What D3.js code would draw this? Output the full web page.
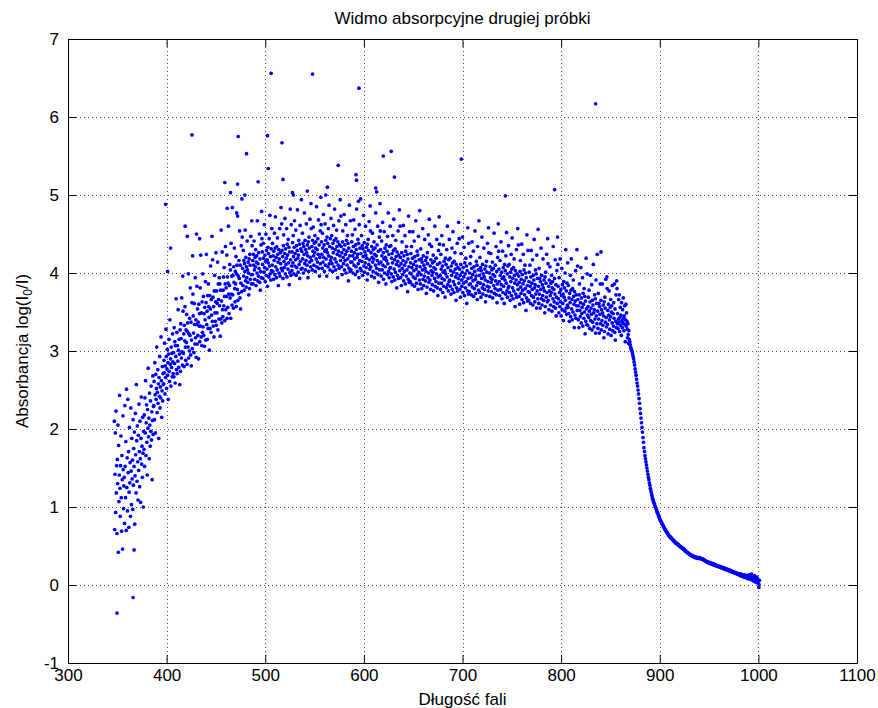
<!DOCTYPE html>
<html>
<head>
<meta charset="utf-8">
<script src="https://cdn.jsdelivr.net/npm/d3@7"></script>
<style>
  body { margin: 0; background: #fff; }
  svg text { font-family: "Liberation Sans", Arial, Helvetica, sans-serif; font-size: 17px; fill: #000; }
</style>
</head>
<body>
<div id="chart"></div>
<script>
(function () {

  // spectrometer samples, 3 per nm in 10 nm rows
  const sampleStep = 1 / 3;

  const uvStart = 347;
  const uvAbsorbance = [
    2.10, 0.71, 1.42, 1.95, 0.93, 2.23, 1.18, 1.53, 0.66, 1.61, 1.30, 2.05, 0.42, 1.79, 1.07, 1.41, 2.43, 1.24, 0.88, 1.53, 1.91, 1.12, 0.69, 1.66, 1.35, 0.46, 2.17, 1.48, 0.98, 1.27,
    1.38, 0.79, 2.30, 1.52, 1.12, 1.84, 0.70, 2.51, 1.25, 1.63, 0.95, 2.38, 1.44, 1.71, 0.74, 1.19, 2.02, 1.31, 1.57, 0.88, 2.27, 1.46, 1.03, 1.88, 1.36, 1.60, 0.97, 2.12, 1.28, 1.75,
    1.52, 1.96, 0.78, 1.40, 2.20, 1.67, 1.18, 2.57, 1.85, 1.33, 2.04, 1.58, 1.09, 1.92, 1.47, 2.32, 1.71, 1.26, 2.10, 1.62, 1.06, 1.88, 2.41, 1.55, 1.78, 1.38, 2.15, 1.69, 1.00, 1.97,
    1.74, 2.18, 1.52, 2.40, 1.95, 2.62, 1.66, 2.08, 2.31, 1.83, 1.41, 2.25, 2.01, 2.78, 1.90, 2.14, 1.62, 2.46, 2.05, 1.78, 2.36, 1.97, 2.55, 1.86, 2.22, 1.35, 2.11, 2.68, 1.93, 2.29,
    2.30, 2.61, 2.12, 2.85, 2.44, 1.95, 2.70, 2.38, 2.52, 3.05, 2.21, 2.47, 2.76, 2.33, 2.58, 1.88, 2.66, 2.42, 2.93, 2.27, 2.54, 2.40, 3.18, 2.62, 2.15, 2.49, 2.80, 2.36, 2.71, 2.57,
    2.58, 2.88, 2.72, 3.10, 2.45, 2.81, 2.66, 3.28, 2.93, 2.52, 2.77, 3.02, 2.69, 2.85, 2.38, 2.96, 3.15, 2.74, 2.61, 3.40, 2.83, 2.90, 2.55, 3.05, 2.79, 2.97, 2.67, 3.22, 2.86, 2.71
  ];

  const blueStart = 407;
  const blueAbsorbance = [
    2.98, 2.67, 3.30, 2.84, 3.12, 2.59, 3.07, 2.93, 3.67, 2.76, 3.24, 2.71, 3.07, 2.87, 3.53, 3.01, 2.79, 3.15, 2.96, 2.57, 3.27, 2.74, 3.35, 3.16, 2.91, 3.68, 2.99, 2.82, 3.96, 3.51,
    2.97, 3.22, 2.80, 3.33, 3.13, 3.57, 3.05, 2.88, 3.27, 3.11, 3.47, 2.83, 3.25, 3.36, 3.05, 3.99, 2.91, 3.22, 3.00, 3.42, 3.20, 3.81, 2.95, 3.37, 2.81, 3.14, 3.62, 3.03, 4.22, 3.73,
    3.45, 3.23, 2.98, 3.61, 3.34, 3.09, 3.94, 3.17, 3.40, 2.92, 3.34, 3.83, 3.09, 3.54, 3.20, 3.37, 2.90, 3.60, 3.32, 3.48, 3.12, 3.81, 3.32, 4.23, 3.18, 3.49, 3.07, 3.63, 3.24, 3.99,
    3.31, 3.70, 3.20, 3.48, 3.06, 3.56, 3.40, 3.89, 3.14, 3.62, 4.24, 3.34, 3.51, 3.15, 3.71, 3.29, 3.86, 3.57, 3.43, 3.01, 3.71, 3.29, 3.54, 4.09, 3.24, 3.66, 3.46, 4.47, 3.38, 4.17,
    3.69, 3.32, 3.57, 3.18, 3.77, 3.97, 3.49, 3.38, 3.63, 4.26, 3.33, 3.77, 3.49, 3.61, 4.14, 3.27, 3.86, 3.66, 3.41, 3.94, 3.58, 3.86, 3.19, 3.78, 3.41, 4.55, 3.64, 3.36, 4.27, 3.53,
    3.44, 3.78, 3.95, 3.58, 4.07, 3.70, 3.39, 3.86, 4.34, 3.53, 3.81, 3.70, 4.23, 3.42, 3.95, 3.56, 3.87, 4.60, 3.73, 3.48, 3.84, 4.11, 3.68, 4.04, 3.42, 4.38, 3.73, 3.96, 3.59, 4.84,
    3.72, 3.97, 3.55, 4.08, 3.88, 4.32, 3.80, 3.63, 4.02, 3.86, 4.21, 3.57, 3.99, 4.10, 3.79, 4.73, 3.65, 3.96, 3.74, 4.16, 3.93, 4.54, 3.68, 4.10, 3.54, 3.87, 4.35, 3.76, 4.95, 4.46,
    4.06, 3.84, 4.29, 3.96, 4.16, 3.78, 4.12, 4.02, 4.55, 3.90, 4.20, 3.82, 4.08, 3.94, 4.41, 4.04, 3.88, 4.14, 4.00, 3.72, 4.18, 3.80, 4.24, 4.10, 3.92, 4.47, 3.98, 3.86, 4.67, 4.35,
    3.98, 4.16, 3.86, 4.24, 4.10, 4.41, 4.04, 3.92, 4.20, 4.08, 4.30, 3.84, 4.14, 4.22, 4.00, 4.67, 3.90, 4.12, 3.96, 4.26, 4.06, 4.50, 3.88, 4.18, 3.78, 4.02, 4.36, 3.94, 4.79, 4.44,
    4.27, 4.11, 3.93, 4.38, 4.19, 4.01, 4.62, 4.07, 4.23, 3.89, 4.15, 4.50, 3.97, 4.29, 4.05, 4.17, 3.83, 4.33, 4.13, 4.25, 3.95, 4.44, 4.09, 4.74, 3.99, 4.21, 3.91, 4.31, 4.03, 4.57
  ];

  const greenStart = 507;
  const greenAbsorbance = [
    4.10, 4.38, 4.02, 4.22, 3.92, 4.28, 4.16, 4.51, 3.98, 4.32, 4.72, 4.08, 4.20, 3.94, 4.34, 4.04, 4.45, 4.24, 4.14, 3.84, 4.30, 4.00, 4.18, 4.57, 3.96, 4.26, 4.12, 4.84, 4.06, 4.63,
    4.29, 4.03, 4.21, 3.93, 4.35, 4.49, 4.15, 4.07, 4.25, 4.70, 3.99, 4.31, 4.11, 4.19, 4.57, 3.95, 4.37, 4.23, 4.05, 4.43, 4.13, 4.33, 3.85, 4.27, 4.01, 4.82, 4.17, 3.97, 4.62, 4.09,
    4.03, 4.27, 4.39, 4.13, 4.48, 4.21, 3.99, 4.33, 4.67, 4.09, 4.25, 4.17, 4.55, 3.97, 4.35, 4.07, 4.29, 4.81, 4.19, 4.01, 4.23, 4.42, 4.11, 4.37, 3.93, 4.61, 4.15, 4.31, 4.05, 4.94,
    4.28, 4.06, 4.51, 4.18, 4.38, 4.00, 4.34, 4.24, 4.77, 4.12, 4.42, 4.04, 4.30, 4.16, 4.63, 4.26, 4.10, 4.36, 4.22, 3.94, 4.40, 4.02, 4.46, 4.32, 4.14, 4.69, 4.20, 4.08, 4.89, 4.57,
    4.16, 4.34, 4.04, 4.42, 4.28, 4.59, 4.22, 4.10, 4.38, 4.26, 4.48, 4.02, 4.32, 4.40, 4.18, 4.85, 4.08, 4.30, 4.14, 4.44, 4.24, 4.68, 4.06, 4.36, 3.96, 4.20, 4.54, 4.12, 4.97, 4.62,
    4.40, 4.24, 4.06, 4.51, 4.32, 4.14, 4.75, 4.20, 4.36, 4.02, 4.28, 4.63, 4.10, 4.42, 4.18, 4.30, 3.96, 4.46, 4.26, 4.38, 4.08, 4.57, 4.22, 4.87, 4.12, 4.34, 4.04, 4.44, 4.16, 4.70,
    4.20, 4.48, 4.12, 4.32, 4.02, 4.38, 4.26, 4.61, 4.08, 4.42, 4.82, 4.18, 4.30, 4.04, 4.44, 4.14, 4.55, 4.34, 4.24, 3.94, 4.40, 4.10, 4.28, 4.67, 4.06, 4.36, 4.22, 4.94, 4.16, 4.73,
    4.34, 4.08, 4.26, 3.98, 4.40, 4.54, 4.20, 4.12, 4.30, 4.75, 4.04, 4.36, 4.16, 4.24, 4.62, 4.00, 4.42, 4.28, 4.10, 4.48, 4.18, 4.38, 3.90, 4.32, 4.06, 4.87, 4.22, 4.02, 4.67, 4.14,
    4.04, 4.28, 4.40, 4.14, 4.49, 4.22, 4.00, 4.34, 4.68, 4.10, 4.26, 4.18, 4.56, 3.98, 4.36, 4.08, 4.30, 4.82, 4.20, 4.02, 4.24, 4.43, 4.12, 4.38, 3.94, 4.62, 4.16, 4.32, 4.06, 4.95,
    4.25, 4.03, 4.48, 4.15, 4.35, 3.97, 4.31, 4.21, 4.74, 4.09, 4.39, 4.01, 4.27, 4.13, 4.60, 4.23, 4.07, 4.33, 4.19, 3.91, 4.37, 3.99, 4.43, 4.29, 4.11, 4.66, 4.17, 4.05, 4.86, 4.54
  ];

  const orangeStart = 607;
  const orangeAbsorbance = [
    4.08, 4.26, 3.96, 4.34, 4.20, 4.51, 4.14, 4.02, 4.30, 4.18, 4.40, 3.94, 4.24, 4.32, 4.10, 4.77, 4.00, 4.22, 4.06, 4.36, 4.16, 4.60, 3.98, 4.28, 3.88, 4.12, 4.46, 4.04, 4.89, 4.54,
    4.30, 4.14, 3.96, 4.41, 4.22, 4.04, 4.65, 4.10, 4.26, 3.92, 4.18, 4.53, 4.00, 4.32, 4.08, 4.20, 3.86, 4.36, 4.16, 4.28, 3.98, 4.47, 4.12, 4.77, 4.02, 4.24, 3.94, 4.34, 4.06, 4.60,
    4.07, 4.35, 3.99, 4.19, 3.89, 4.25, 4.13, 4.48, 3.95, 4.29, 4.69, 4.05, 4.17, 3.91, 4.31, 4.01, 4.42, 4.21, 4.11, 3.81, 4.27, 3.97, 4.15, 4.54, 3.93, 4.23, 4.09, 4.81, 4.03, 4.60,
    4.20, 3.94, 4.12, 3.84, 4.26, 4.40, 4.06, 3.98, 4.16, 4.61, 3.90, 4.22, 4.02, 4.10, 4.48, 3.86, 4.28, 4.14, 3.96, 4.34, 4.04, 4.24, 3.76, 4.18, 3.92, 4.73, 4.08, 3.88, 4.53, 4.00,
    3.89, 4.13, 4.25, 3.99, 4.34, 4.07, 3.85, 4.19, 4.53, 3.95, 4.11, 4.03, 4.41, 3.83, 4.21, 3.93, 4.15, 4.67, 4.05, 3.87, 4.09, 4.28, 3.97, 4.23, 3.79, 4.47, 4.01, 4.17, 3.91, 4.80,
    4.08, 3.86, 4.31, 3.98, 4.18, 3.80, 4.14, 4.04, 4.57, 3.92, 4.22, 3.84, 4.10, 3.96, 4.43, 4.06, 3.90, 4.16, 4.02, 3.74, 4.20, 3.82, 4.26, 4.12, 3.94, 4.49, 4.00, 3.88, 4.69, 4.37,
    3.91, 4.09, 3.79, 4.17, 4.03, 4.34, 3.97, 3.85, 4.13, 4.01, 4.23, 3.77, 4.07, 4.15, 3.93, 4.60, 3.83, 4.05, 3.89, 4.19, 3.99, 4.43, 3.81, 4.11, 3.71, 3.95, 4.29, 3.87, 4.72, 4.37,
    4.13, 3.97, 3.79, 4.24, 4.05, 3.87, 4.48, 3.93, 4.09, 3.75, 4.01, 4.36, 3.83, 4.15, 3.91, 4.03, 3.69, 4.19, 3.99, 4.11, 3.81, 4.30, 3.95, 4.60, 3.85, 4.07, 3.77, 4.17, 3.89, 4.43,
    3.91, 4.19, 3.83, 4.03, 3.73, 4.09, 3.97, 4.32, 3.79, 4.13, 4.53, 3.89, 4.01, 3.75, 4.15, 3.85, 4.26, 4.05, 3.95, 3.65, 4.11, 3.81, 3.99, 4.38, 3.77, 4.07, 3.93, 4.65, 3.87, 4.44,
    4.05, 3.79, 3.97, 3.69, 4.11, 4.25, 3.91, 3.83, 4.01, 4.46, 3.75, 4.07, 3.87, 3.95, 4.33, 3.71, 4.13, 3.99, 3.81, 4.19, 3.89, 4.09, 3.61, 4.03, 3.77, 4.58, 3.93, 3.73, 4.38, 3.85
  ];

  const redStart = 707;
  const redAbsorbance = [
    3.76, 4.00, 4.12, 3.86, 4.21, 3.94, 3.72, 4.06, 4.40, 3.82, 3.98, 3.90, 4.28, 3.70, 4.08, 3.80, 4.02, 4.54, 3.92, 3.74, 3.96, 4.15, 3.84, 4.10, 3.66, 4.34, 3.88, 4.04, 3.78, 4.67,
    3.97, 3.75, 4.20, 3.87, 4.07, 3.69, 4.03, 3.93, 4.46, 3.81, 4.11, 3.73, 3.99, 3.85, 4.32, 3.95, 3.79, 4.05, 3.91, 3.63, 4.09, 3.71, 4.15, 4.01, 3.83, 4.38, 3.89, 3.77, 4.58, 4.26,
    3.82, 4.00, 3.70, 4.08, 3.94, 4.25, 3.88, 3.76, 4.04, 3.92, 4.14, 3.68, 3.98, 4.06, 3.84, 4.51, 3.74, 3.96, 3.80, 4.10, 3.90, 4.34, 3.72, 4.02, 3.62, 3.86, 4.20, 3.78, 4.63, 4.28,
    4.05, 3.89, 3.71, 4.16, 3.97, 3.79, 4.40, 3.85, 4.01, 3.67, 3.93, 4.28, 3.75, 4.07, 3.83, 3.95, 3.61, 4.11, 3.91, 4.03, 3.73, 4.22, 3.87, 4.52, 3.77, 3.99, 3.69, 4.09, 3.81, 4.35,
    3.83, 4.11, 3.75, 3.95, 3.65, 4.01, 3.89, 4.24, 3.71, 4.05, 4.45, 3.81, 3.93, 3.67, 4.07, 3.77, 4.18, 3.97, 3.87, 3.57, 4.03, 3.73, 3.91, 4.30, 3.69, 3.99, 3.85, 4.57, 3.79, 4.36,
    3.96, 3.70, 3.88, 3.60, 4.02, 4.16, 3.82, 3.74, 3.92, 4.37, 3.66, 3.98, 3.78, 3.86, 4.24, 3.62, 4.04, 3.90, 3.72, 4.10, 3.80, 4.00, 3.52, 3.94, 3.68, 4.49, 3.84, 3.64, 4.29, 3.76,
    3.65, 3.89, 4.01, 3.75, 4.10, 3.83, 3.61, 3.95, 4.29, 3.71, 3.87, 3.79, 4.17, 3.59, 3.97, 3.69, 3.91, 4.43, 3.81, 3.63, 3.85, 4.04, 3.73, 3.99, 3.55, 4.23, 3.77, 3.93, 3.67, 4.56,
    3.83, 3.61, 4.06, 3.73, 3.93, 3.55, 3.89, 3.79, 4.32, 3.67, 3.97, 3.59, 3.85, 3.71, 4.18, 3.81, 3.65, 3.91, 3.77, 3.49, 3.95, 3.57, 4.01, 3.87, 3.69, 4.24, 3.75, 3.63, 4.44, 4.12,
    3.65, 3.83, 3.53, 3.91, 3.77, 4.08, 3.71, 3.59, 3.87, 3.75, 3.97, 3.51, 3.81, 3.89, 3.67, 4.34, 3.57, 3.79, 3.63, 3.93, 3.73, 4.17, 3.55, 3.85, 3.45, 3.69, 4.03, 3.61, 4.46, 4.11,
    3.83, 3.67, 3.49, 3.94, 3.75, 3.57, 4.18, 3.63, 3.79, 3.45, 3.71, 4.06, 3.53, 3.85, 3.61, 3.73, 3.39, 3.89, 3.69, 3.81, 3.51, 4.00, 3.65, 4.30, 3.55, 3.77, 3.47, 3.87, 3.59, 4.13
  ];

  const edgeStart = 807;
  const edgeAbsorbance = [
    3.56, 3.84, 3.48, 3.68, 3.38, 3.74, 3.62, 3.97, 3.44, 3.78, 4.18, 3.54, 3.66, 3.40, 3.80, 3.50, 3.91, 3.70, 3.60, 3.30, 3.76, 3.46, 3.64, 4.03, 3.42, 3.72, 3.58, 4.30, 3.52, 4.09,
    3.66, 3.40, 3.58, 3.30, 3.72, 3.86, 3.52, 3.44, 3.62, 4.07, 3.36, 3.68, 3.48, 3.56, 3.94, 3.32, 3.74, 3.60, 3.42, 3.80, 3.50, 3.70, 3.22, 3.64, 3.38, 4.19, 3.54, 3.34, 3.99, 3.46,
    3.33, 3.57, 3.69, 3.43, 3.78, 3.51, 3.29, 3.63, 3.97, 3.39, 3.55, 3.47, 3.85, 3.27, 3.65, 3.37, 3.59, 4.11, 3.49, 3.31, 3.53, 3.72, 3.41, 3.67, 3.23, 3.91, 3.45, 3.61, 3.35, 4.24,
    3.51, 3.29, 3.74, 3.41, 3.61, 3.23, 3.57, 3.47, 3.86, 3.35, 3.65, 3.27, 3.53, 3.39, 3.86, 3.49, 3.33, 3.59, 3.45, 3.17, 3.63, 3.25, 3.69, 3.55, 3.37, 3.92, 3.43, 3.31, 3.95, 3.80,
    3.34, 3.52, 3.22, 3.60, 3.46, 3.77, 3.40, 3.28, 3.56, 3.44, 3.66, 3.20, 3.50, 3.58, 3.36, 3.84, 3.26, 3.48, 3.32, 3.62, 3.42, 3.86, 3.24, 3.54, 3.14, 3.38, 3.72, 3.30, 3.90, 3.80,
    3.35, 3.48, 3.29, 3.41, 3.66, 3.37, 3.72, 3.25, 3.43, 3.56, 3.33, 3.46, 3.20, 3.62, 3.39, 3.30, 3.53, 3.36, 3.68, 3.42, 3.26, 3.45, 3.58, 3.34, 3.12, 3.40, 3.60, 3.32, 3.49, 3.38,
    3.28, 3.17, 3.35, 3.21, 3.10, 3.26, 3.15, 3.09, 3.12
  ];

  // smooth fall-off past the absorption edge, 2 samples per nm
  const tailStart = 870;
  const tailStep = 0.5;
  const tailAbsorbance = [
    3.08, 3.05, 3.03, 3.01, 2.99, 2.96, 2.93, 2.90, 2.86, 2.82,
    2.77, 2.73, 2.69, 2.64, 2.59, 2.55, 2.50, 2.45, 2.39, 2.33,
    2.26, 2.20, 2.14, 2.08, 2.02, 1.96, 1.89, 1.83, 1.76, 1.71,
    1.66, 1.62, 1.58, 1.54, 1.50, 1.46, 1.42, 1.38, 1.35, 1.31,
    1.28, 1.24, 1.21, 1.18, 1.15, 1.12, 1.10, 1.08, 1.06, 1.04,
    1.02, 1.00, 0.99, 0.97, 0.95, 0.93, 0.92, 0.90, 0.88, 0.86,
    0.85, 0.83, 0.82, 0.81, 0.80, 0.78, 0.77, 0.76, 0.75, 0.73,
    0.72, 0.71, 0.70, 0.69, 0.68, 0.67, 0.66, 0.65, 0.64, 0.63,
    0.62, 0.62, 0.61, 0.60, 0.60, 0.59, 0.58, 0.58, 0.57, 0.56,
    0.56, 0.55, 0.54, 0.54, 0.53, 0.53, 0.52, 0.52, 0.51, 0.51,
    0.50, 0.50, 0.49, 0.49, 0.48, 0.48, 0.47, 0.47, 0.46, 0.46,
    0.45, 0.44, 0.44, 0.43, 0.43, 0.42, 0.42, 0.41, 0.41, 0.40,
    0.40, 0.39, 0.39, 0.38, 0.38, 0.38, 0.37, 0.37, 0.37, 0.36,
    0.36, 0.36, 0.36, 0.35, 0.35, 0.35, 0.35, 0.35, 0.34, 0.35,
    0.34, 0.35, 0.34, 0.34, 0.34, 0.33, 0.34, 0.33, 0.33, 0.32,
    0.32, 0.32, 0.31, 0.31, 0.30, 0.30, 0.30, 0.29, 0.29, 0.29,
    0.28, 0.29, 0.28, 0.28, 0.27, 0.28, 0.27, 0.27, 0.26, 0.27,
    0.26, 0.26, 0.25, 0.26, 0.25, 0.25, 0.24, 0.25, 0.24, 0.24,
    0.24, 0.23, 0.24, 0.23, 0.23, 0.22, 0.23, 0.22, 0.22, 0.21,
    0.21, 0.22, 0.21, 0.20, 0.21, 0.20, 0.20, 0.19, 0.20, 0.19,
    0.19, 0.18, 0.19, 0.18, 0.18, 0.17, 0.18, 0.17, 0.17, 0.16,
    0.17, 0.16, 0.16, 0.15, 0.16, 0.15, 0.15, 0.14, 0.15, 0.14,
    0.14, 0.13, 0.14, 0.12, 0.13, 0.14, 0.12, 0.13, 0.11, 0.12,
    0.12, 0.10, 0.13, 0.11, 0.10, 0.12, 0.09, 0.11, 0.10, 0.08,
    0.10, 0.13, 0.08, 0.09, 0.11, 0.07, 0.14, 0.08, 0.10, 0.06,
    0.09, 0.05, 0.12, 0.07, 0.04, 0.08, 0.06, 0.10, 0.03, 0.07,
    0.05, 0.01, 0.06
  ];

  // isolated readings well off the main band: [nm, absorbance]
  const spikes = [
    [349.7, -0.36], [366, -0.16], [367, 0.45], [399, 4.88], [401, 4.02], [404, 4.32],
    [418.8, 4.6], [421, 4.47], [425.7, 5.77], [430.3, 4.5], [433.4, 4.44], [459, 5.16],
    [461.4, 4.83], [464.8, 5.03], [471, 4.77], [471.9, 5.14], [472.6, 5.75], [479.3, 5.0],
    [481, 5.53], [492.8, 5.17], [502.3, 5.76], [503, 5.34], [506, 6.56], [517, 5.67],
    [518, 5.2], [527.6, 5.03], [528.5, 5.0], [542.6, 5.05], [548, 6.55], [561.4, 5.0],
    [563, 5.1], [574, 5.38], [592, 5.26], [592.5, 5.19], [594.5, 4.92], [595, 6.37],
    [612, 5.09], [613, 5.04], [619.7, 5.5], [627.7, 5.56], [631, 5.23], [698.8, 5.46],
    [743.5, 4.99], [793.4, 5.07], [835, 6.17], [840.4, 4.27], [1000.5, -0.03]
  ];

  const xTicks = [300, 400, 500, 600, 700, 800, 900, 1000, 1100];
  const yTicks = [-1, 0, 1, 2, 3, 4, 5, 6, 7];

  const titleText = "Widmo absorpcyjne drugiej próbki";
  const xLabel = "Długość fali";

  const width = 878, height = 708;
  const margin = { top: 39, right: 21, bottom: 45, left: 68 };
  const blue = "#0000ff";
  const tickLen = 8;

  const segments = [
    { start: uvStart, step: sampleStep, values: uvAbsorbance },
    { start: blueStart, step: sampleStep, values: blueAbsorbance },
    { start: greenStart, step: sampleStep, values: greenAbsorbance },
    { start: orangeStart, step: sampleStep, values: orangeAbsorbance },
    { start: redStart, step: sampleStep, values: redAbsorbance },
    { start: edgeStart, step: sampleStep, values: edgeAbsorbance },
    { start: tailStart, step: tailStep, values: tailAbsorbance }
  ];

  const points = [];
  segments.forEach(seg => {
    seg.values.forEach((a, i) => points.push({ nm: seg.start + i * seg.step, a: a }));
  });
  spikes.forEach(s => points.push({ nm: s[0], a: s[1] }));

  const x = d3.scaleLinear().domain([300, 1100]).range([margin.left, width - margin.right]);
  const y = d3.scaleLinear().domain([-1, 7]).range([height - margin.bottom, margin.top]);

  const plainNumber = d => String(d);

  const svg = d3.select("#chart").append("svg")
      .attr("width", width)
      .attr("height", height);

  svg.append("rect")
      .attr("width", width)
      .attr("height", height)
      .attr("fill", "#fff");

  // dotted grid
  const grid = svg.append("g")
      .attr("stroke", "#555")
      .attr("stroke-width", 1)
      .attr("stroke-dasharray", "1,3")
      .attr("shape-rendering", "crispEdges");

  grid.selectAll(".gx")
    .data(xTicks.slice(1, -1))
    .join("line")
      .attr("class", "gx")
      .attr("x1", d => Math.round(x(d)) + 0.5)
      .attr("x2", d => Math.round(x(d)) + 0.5)
      .attr("y1", margin.top)
      .attr("y2", height - margin.bottom);

  grid.selectAll(".gy")
    .data(yTicks.slice(1, -1))
    .join("line")
      .attr("class", "gy")
      .attr("y1", d => Math.round(y(d)) + 0.5)
      .attr("y2", d => Math.round(y(d)) + 0.5)
      .attr("x1", margin.left)
      .attr("x2", width - margin.right);

  // the spectrum
  svg.append("g")
    .selectAll("circle")
    .data(points)
    .join("circle")
      .attr("cx", d => x(d.nm))
      .attr("cy", d => y(d.a))
      .attr("r", 1.85)
      .attr("fill", blue);

  // box with inward ticks, MATLAB style
  const styleAxis = g => {
    g.select(".domain").attr("stroke", "#000");
    g.selectAll(".tick line").attr("stroke", "#000");
    g.selectAll("text").attr("font-size", null).attr("font-family", null);
  };

  svg.append("g")
      .attr("transform", `translate(0,${height - margin.bottom})`)
      .call(d3.axisBottom(x).tickValues(xTicks).tickFormat(plainNumber)
        .tickSizeInner(-tickLen).tickSizeOuter(0).tickPadding(6))
      .call(styleAxis);

  svg.append("g")
      .attr("transform", `translate(0,${margin.top})`)
      .call(d3.axisTop(x).tickValues(xTicks).tickSizeInner(-tickLen).tickSizeOuter(0).tickFormat(""))
      .call(styleAxis);

  svg.append("g")
      .attr("transform", `translate(${margin.left},0)`)
      .call(d3.axisLeft(y).tickValues(yTicks).tickFormat(plainNumber)
        .tickSizeInner(-tickLen).tickSizeOuter(0).tickPadding(9))
      .call(styleAxis);

  svg.append("g")
      .attr("transform", `translate(${width - margin.right},0)`)
      .call(d3.axisRight(y).tickValues(yTicks).tickSizeInner(-tickLen).tickSizeOuter(0).tickFormat(""))
      .call(styleAxis);

  const plotMidX = (margin.left + width - margin.right) / 2;
  const plotMidY = (margin.top + height - margin.bottom) / 2;

  svg.append("text")
      .attr("x", plotMidX)
      .attr("y", 24)
      .attr("text-anchor", "middle")
      .text(titleText);

  svg.append("text")
      .attr("x", plotMidX)
      .attr("y", 705)
      .attr("text-anchor", "middle")
      .text(xLabel);

  const yl = svg.append("text")
      .attr("transform", `translate(28,${plotMidY}) rotate(-90)`)
      .attr("text-anchor", "middle");
  yl.append("tspan").text("Absorbancja log(I");
  yl.append("tspan").attr("font-size", "12px").attr("dy", 4).text("0");
  yl.append("tspan").attr("dy", -4).text("/I)");

})();
</script>
</body>
</html>
